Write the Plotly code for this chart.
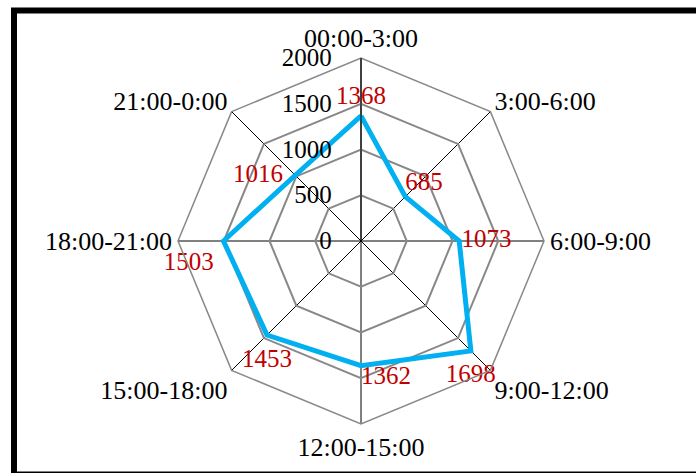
import plotly.graph_objects as go

# Eight three-hour time slots, clockwise from midnight
slots = ["00:00-3:00", "3:00-6:00", "6:00-9:00", "9:00-12:00",
         "12:00-15:00", "15:00-18:00", "18:00-21:00", "21:00-0:00"]
counts = [1368, 685, 1073, 1698, 1362, 1453, 1503, 1016]
label_pos = ["top center", "top right", "middle right", "bottom center",
             "bottom right", "bottom center", "bottom left", "middle left"]
# invisible marker sizes, used only to space each value label from its point
label_gap = [8, 0, 2, 18, 0, 20, 14, 18]
radial_ticks = [0, 500, 1000, 1500, 2000]

W, H = 696, 473
cx, cy, R = 361, 241, 183  # plot centre and outer radius in pixels

serif = "Liberation Serif"

fig = go.Figure()
fig.add_trace(go.Scatterpolar(
    r=counts + counts[:1],
    theta=slots + slots[:1],
    mode="lines+markers+text",
    line=dict(color="#00B0F0", width=5),
    marker=dict(size=label_gap + [0], color="rgba(0,0,0,0)",
                line=dict(width=0, color="rgba(0,0,0,0)")),
    text=[str(v) for v in counts] + [""],
    textposition=label_pos + ["top center"],
    textfont=dict(family=serif, size=25, color="#C00000"),
    cliponaxis=False,
    showlegend=False,
    hoverinfo="r+theta",
))

fig.update_layout(
    width=W, height=H,
    margin=dict(l=0, r=0, t=0, b=0),
    paper_bgcolor="white",
    plot_bgcolor="white",
    font=dict(family=serif, color="black"),
    polar=dict(
        domain=dict(x=[(cx - R) / W, (cx + R) / W],
                    y=[(H - cy - R) / H, (H - cy + R) / H]),
        bgcolor="white",
        gridshape="linear",
        angularaxis=dict(
            direction="clockwise", rotation=90,
            type="category", categoryarray=slots,
            gridcolor="black", gridwidth=1,
            showline=True, linecolor="#888888", linewidth=1.5,
            ticks="", tickfont=dict(family=serif, size=26, color="black"),
        ),
        radialaxis=dict(
            range=[0, 2000], tickvals=radial_ticks,
            angle=90, side="counterclockwise", tickangle=90,
            showline=True, linecolor="black", linewidth=1,
            gridcolor="#888888", gridwidth=1.5,
            ticks="outside", ticklen=20, tickcolor="rgba(0,0,0,0)",
            tickfont=dict(family=serif, size=25, color="black"),
        ),
    ),
    shapes=[dict(
        type="rect", xref="paper", yref="paper",
        x0=14 / W, x1=1.05, y0=-1.5 / H, y1=1 - 10.5 / H,
        line=dict(color="black", width=6),
        fillcolor="rgba(0,0,0,0)", layer="above",
    )],
)

fig.write_html("out.html")
